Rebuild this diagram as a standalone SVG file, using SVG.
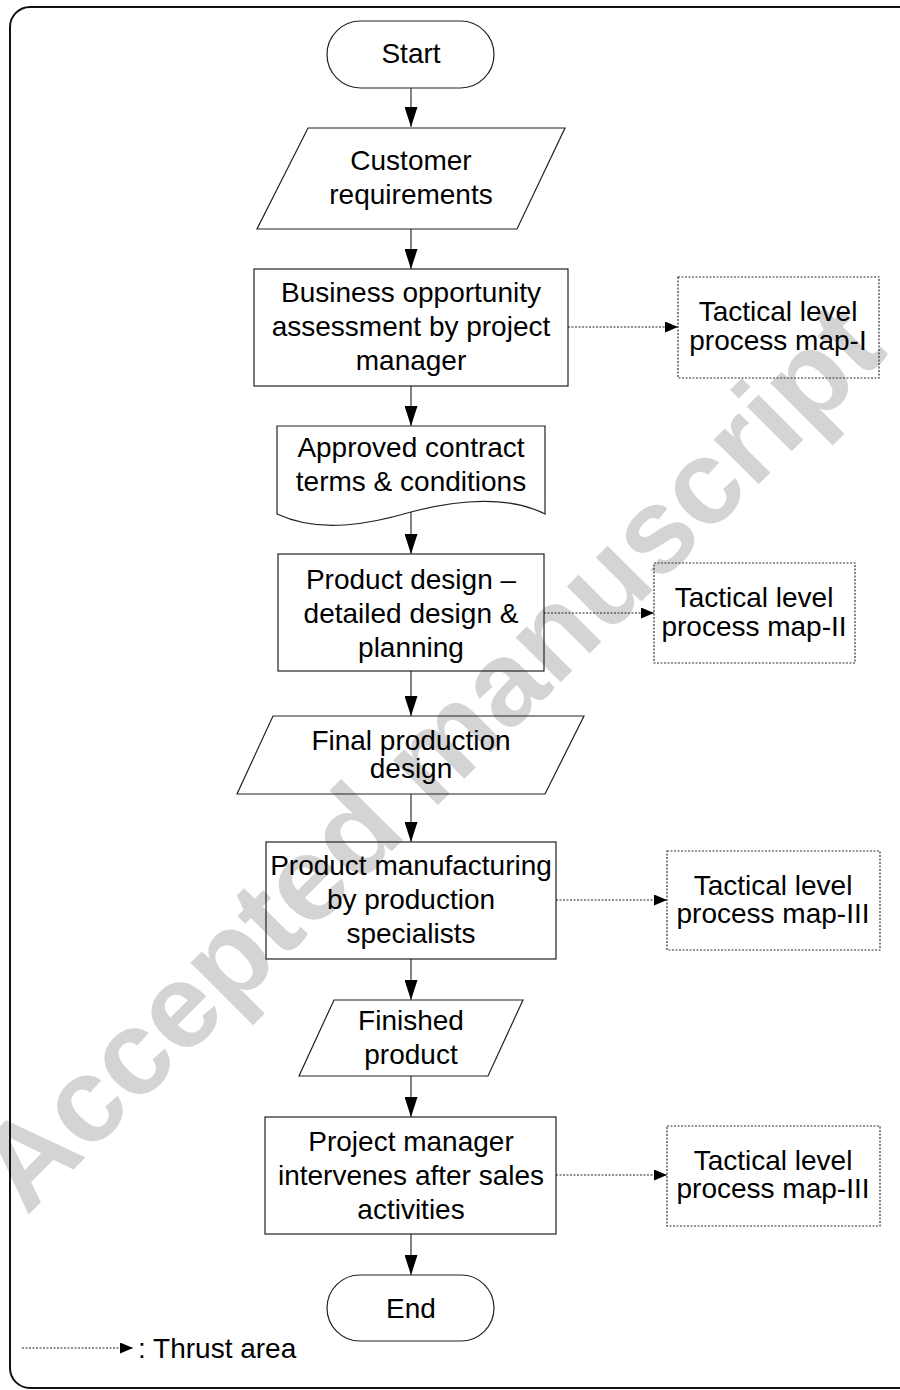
<svg xmlns="http://www.w3.org/2000/svg" width="900" height="1390" viewBox="0 0 900 1390">
  <style>
    .shape { fill: none; stroke: #222; stroke-width: 1.2; }
    .tactical { fill: none; stroke: #333; stroke-width: 1.2; stroke-dasharray: 2 1.5; }
    .lbl { font-family: "Liberation Sans", Arial, sans-serif; font-size: 28px; fill: #000; text-anchor: middle; }
    .flow { stroke: #333; stroke-width: 1.2; fill: none; marker-end: url(#solidArrow); }
    .thrust { stroke: #222; stroke-width: 1; stroke-dasharray: 2 1.5; fill: none; marker-end: url(#dotArrow); }
    .wm { font-family: "Liberation Sans", Arial, sans-serif; font-weight: bold; font-size: 120px; fill: #d4d4d4; text-anchor: middle; }
  </style>
  <defs>
    <marker id="solidArrow" markerUnits="userSpaceOnUse" markerWidth="20" markerHeight="13" refX="20" refY="6.5" orient="auto">
      <path d="M0,0 L20,6.5 L0,13 z" fill="#000"/>
    </marker>
    <marker id="dotArrow" markerUnits="userSpaceOnUse" markerWidth="13" markerHeight="11" refX="13" refY="5.5" orient="auto">
      <path d="M0,0 L13,5.5 L0,11 z" fill="#000"/>
    </marker>
  </defs>

  <rect width="900" height="1390" fill="#fff"/>

  <!-- watermark -->
  <text class="wm" x="458" y="785" transform="rotate(-45 458 785)">Accepted manuscript</text>

  <!-- page frame -->
  <rect x="10" y="7" width="930" height="1381" rx="20" ry="20" fill="none" stroke="#111" stroke-width="2"/>

  <!-- connectors -->
  <g id="connectors">
    <line class="flow" x1="411" y1="88" x2="411" y2="127"/>
    <line class="flow" x1="411" y1="229" x2="411" y2="269"/>
    <line class="flow" x1="411" y1="386" x2="411" y2="426"/>
    <line class="flow" x1="411" y1="512" x2="411" y2="554"/>
    <line class="flow" x1="411" y1="671" x2="411" y2="716"/>
    <line class="flow" x1="411" y1="794" x2="411" y2="842"/>
    <line class="flow" x1="411" y1="959" x2="411" y2="1000"/>
    <line class="flow" x1="411" y1="1076" x2="411" y2="1117"/>
    <line class="flow" x1="411" y1="1234" x2="411" y2="1275"/>
    <line class="thrust" x1="568" y1="327" x2="678" y2="327"/>
    <line class="thrust" x1="544" y1="613" x2="654" y2="613"/>
    <line class="thrust" x1="556" y1="900" x2="667" y2="900"/>
    <line class="thrust" x1="556" y1="1175" x2="667" y2="1175"/>
  </g>

  <g id="start">
    <rect class="shape" x="327" y="21" width="167" height="67" rx="33.5" ry="33.5"/>
    <text class="lbl" x="411" y="63">Start</text>
  </g>

  <g id="customer-requirements">
    <polygon class="shape" points="308,128 565,128 517,229 257,229"/>
    <text class="lbl" x="411" y="170">Customer</text>
    <text class="lbl" x="411" y="204">requirements</text>
  </g>

  <g id="business-opportunity">
    <rect class="shape" x="254" y="269" width="314" height="117"/>
    <text class="lbl" x="411" y="302">Business opportunity</text>
    <text class="lbl" x="411" y="336">assessment by project</text>
    <text class="lbl" x="411" y="370">manager</text>
  </g>

  <g id="tactical-1">
    <rect class="tactical" x="678" y="277" width="201" height="101"/>
    <text class="lbl" x="778" y="321">Tactical level</text>
    <text class="lbl" x="778" y="350">process map-I</text>
  </g>

  <g id="approved-contract">
    <path class="shape" d="M277,514 L277,426 L545,426 L545,514 C510,496 460,499 411,512 C370,524 320,534 277,514 z"/>
    <text class="lbl" x="411" y="457">Approved contract</text>
    <text class="lbl" x="411" y="491">terms &amp; conditions</text>
  </g>

  <g id="product-design">
    <rect class="shape" x="278" y="554" width="266" height="117"/>
    <text class="lbl" x="411" y="589">Product design –</text>
    <text class="lbl" x="411" y="623">detailed design &amp;</text>
    <text class="lbl" x="411" y="657">planning</text>
  </g>

  <g id="tactical-2">
    <rect class="tactical" x="654" y="563" width="201" height="100"/>
    <text class="lbl" x="754" y="607">Tactical level</text>
    <text class="lbl" x="754" y="636">process map-II</text>
  </g>

  <g id="final-production-design">
    <polygon class="shape" points="273,716 584,716 545,794 237,794"/>
    <text class="lbl" x="411" y="750">Final production</text>
    <text class="lbl" x="411" y="778">design</text>
  </g>

  <g id="product-manufacturing">
    <rect class="shape" x="266" y="842" width="290" height="117"/>
    <text class="lbl" x="411" y="875">Product manufacturing</text>
    <text class="lbl" x="411" y="909">by production</text>
    <text class="lbl" x="411" y="943">specialists</text>
  </g>

  <g id="tactical-3a">
    <rect class="tactical" x="667" y="851" width="213" height="99"/>
    <text class="lbl" x="773" y="895">Tactical level</text>
    <text class="lbl" x="773" y="923">process map-III</text>
  </g>

  <g id="finished-product">
    <polygon class="shape" points="334,1000 523,1000 488,1076 299,1076"/>
    <text class="lbl" x="411" y="1030">Finished</text>
    <text class="lbl" x="411" y="1064">product</text>
  </g>

  <g id="after-sales">
    <rect class="shape" x="265" y="1117" width="291" height="117"/>
    <text class="lbl" x="411" y="1151">Project manager</text>
    <text class="lbl" x="411" y="1185">intervenes after sales</text>
    <text class="lbl" x="411" y="1219">activities</text>
  </g>

  <g id="tactical-3b">
    <rect class="tactical" x="667" y="1126" width="213" height="100"/>
    <text class="lbl" x="773" y="1170">Tactical level</text>
    <text class="lbl" x="773" y="1198">process map-III</text>
  </g>

  <g id="end">
    <rect class="shape" x="327" y="1275" width="167" height="66" rx="33" ry="33"/>
    <text class="lbl" x="411" y="1318">End</text>
  </g>

  <g id="legend">
    <line class="thrust" x1="22" y1="1348" x2="133" y2="1348"/>
    <text class="lbl" x="138" y="1358" style="text-anchor:start">: Thrust area</text>
  </g>
</svg>
